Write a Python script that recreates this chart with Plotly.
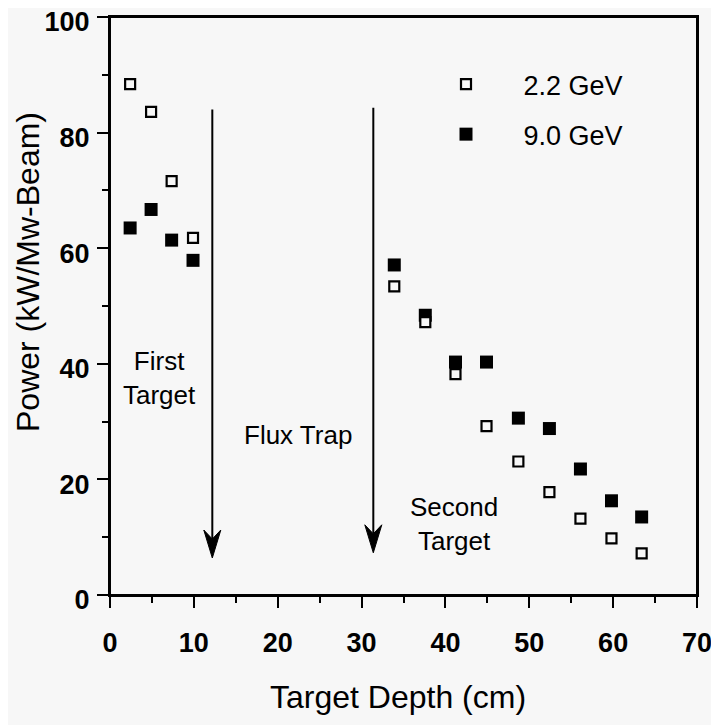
import plotly.graph_objects as go

# ---- data ----
depth_cm = [2.4, 4.9, 7.35, 9.9, 33.9, 37.6, 41.2, 44.9, 48.7, 52.4, 56.1, 59.8, 63.4]
power_2_2GeV = [88.4, 83.6, 71.6, 61.8, 53.4, 47.2, 38.2, 29.2, 23.1, 17.8, 13.2, 9.8, 7.2]
power_9_0GeV = [63.5, 66.7, 61.4, 57.9, 57.1, 48.4, 40.3, 40.3, 30.6, 28.8, 21.8, 16.3, 13.5]
series_names = ["2.2 GeV", "9.0 GeV"]

x_ticks = [0, 10, 20, 30, 40, 50, 60, 70]
y_ticks = [0, 20, 40, 60, 80, 100]

arrow_x = [12.2, 31.4]
arrow_top = [84.0, 84.3]
arrow_tip = [6.4, 7.3]

labels_text = ["First<br>Target", "Flux Trap", "Second<br>Target"]
labels_x = [5.9, 22.4, 41.0]
labels_y = [37.6, 27.6, 12.2]

# ---- layout constants ----
W, H = 719, 725
OFF = 8                      # default page body margin
PL, PT, PR, PB = 110, 17, 697, 595   # plot area in screen pixels
ML, MT = PL - OFF, PT - OFF
pw, ph = PR - PL, PB - PT
MR, MB = W - ML - pw, H - MT - ph
XR = [0, 70]
YR = [0, 100]
BG = "#f7f7f7"
FONT = "Liberation Sans, Arial, sans-serif"

px_x = (XR[1] - XR[0]) / pw   # data units per pixel
px_y = (YR[1] - YR[0]) / ph

def paper_x(sx):
    return (sx - PL) / pw

def paper_y(sy):
    return (PB - sy) / ph

fig = go.Figure()

fig.add_trace(go.Scatter(
    x=depth_cm, y=power_9_0GeV, mode="markers", name="\u00a0\u00a0\u00a0\u00a0\u00a0" + series_names[1],
    marker=dict(symbol="square", size=13, color="black", line=dict(width=0)),
    legendrank=2, legendgroup="b",
))
fig.add_trace(go.Scatter(
    x=depth_cm, y=power_2_2GeV, mode="markers", name="\u00a0\u00a0\u00a0\u00a0\u00a0" + series_names[0],
    marker=dict(symbol="square", size=10, color=BG, line=dict(width=2.2, color="black")),
    legendrank=1, legendgroup="a",
))

shapes = []
hw, hl, notch = 8.5, 28, 9
for ax, at, tip in zip(arrow_x, arrow_top, arrow_tip):
    shapes.append(dict(type="line", x0=ax, x1=ax, y0=at, y1=tip + (hl - notch) * px_y,
                       line=dict(color="black", width=2)))
    path = (f"M {ax},{tip} L {ax - hw * px_x},{tip + hl * px_y} "
            f"L {ax},{tip + (hl - notch) * px_y} L {ax + hw * px_x},{tip + hl * px_y} Z")
    shapes.append(dict(type="path", path=path, fillcolor="black", line=dict(color="black", width=1)))

# plot frame drawn explicitly so the top edge is always visible
shapes.append(dict(type="rect", xref="paper", yref="paper", x0=0, x1=1, y0=0, y1=1,
                   line=dict(color="black", width=2), fillcolor="rgba(0,0,0,0)", layer="above"))

annotations = []
for t, x, y in zip(labels_text, labels_x, labels_y):
    annotations.append(dict(x=x, y=y, xref="x", yref="y", text=t, showarrow=False,
                            font=dict(family=FONT, size=26, color="black"),
                            xanchor="center", yanchor="middle", align="center"))
annotations.append(dict(x=paper_x(397.5), y=paper_y(697), xref="paper", yref="paper",
                        text="Target Depth (cm)", showarrow=False,
                        font=dict(family=FONT, size=32, color="black"),
                        xanchor="center", yanchor="middle"))
annotations.append(dict(x=paper_x(28), y=paper_y(272), xref="paper", yref="paper",
                        text="Power (kW/Mw-Beam)", showarrow=False, textangle=-90,
                        font=dict(family=FONT, size=32, color="black"),
                        xanchor="center", yanchor="middle"))

fig.update_layout(
    width=W, height=H,
    margin=dict(l=ML, r=MR, t=MT, b=MB, autoexpand=False),
    paper_bgcolor=BG, plot_bgcolor=BG,
    shapes=shapes, annotations=annotations,
    showlegend=True,
    legend=dict(x=paper_x(446), y=paper_y(60), xanchor="left", yanchor="top",
                bgcolor="rgba(0,0,0,0)", font=dict(family=FONT, size=27, color="black"),
                tracegroupgap=12),
)

axis_common = dict(showline=True, linecolor="black", linewidth=2, mirror=True, automargin=False,
                   showgrid=False, zeroline=False, ticks="outside", ticklen=11, tickwidth=2,
                   tickcolor="black", ticklabeloverflow="allow",
                   tickfont=dict(family=FONT, size=27, color="black", weight="bold"))
fig.update_xaxes(range=XR, tickvals=x_ticks, ticktext=[str(v) for v in x_ticks],
                 minor=dict(dtick=5, ticklen=6, tickwidth=2, tickcolor="black", ticks="outside", showgrid=False),
                 ticklabelstandoff=12, **axis_common)
fig.update_yaxes(range=YR, tickvals=y_ticks, ticktext=[str(v) for v in y_ticks],
                 minor=dict(dtick=10, ticklen=6, tickwidth=2, tickcolor="black", ticks="outside", showgrid=False),
                 ticklabelstandoff=2, ticklabelshift=5, **axis_common)

fig.write_html("out.html")
